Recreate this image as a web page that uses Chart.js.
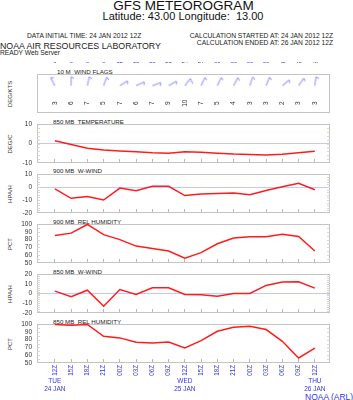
<!DOCTYPE html>
<html>
<head>
<meta charset="utf-8">
<script src="https://cdn.jsdelivr.net/npm/chart.js@4.4.1/dist/chart.umd.min.js"></script>
<style>
  html, body { margin: 0; padding: 0; background: #fff; }
  #page { position: relative; width: 353px; height: 400px; overflow: hidden;
          font-family: "Liberation Sans", Arial, sans-serif; color: #222; }
  #page canvas { position: absolute; left: 0; top: 0; }
  .t { position: absolute; white-space: nowrap; line-height: 1; }
  .yt { position: absolute; white-space: nowrap; line-height: 1; font-size: 6px; color: #333;
        transform: translate(-50%, -50%) rotate(-90deg); }
  .blue { color: #3535e6; }
</style>
</head>
<body>
<div id="page">
  <div class="t" style="left:183.5px; top:-1.3px; font-size:13.5px; color:#111; transform:translateX(-50%);">GFS METEOROGRAM</div>
  <div class="t" style="left:183px; top:11px; font-size:11px; color:#111; transform:translateX(-50%);">Latitude: 43.00 Longitude:&nbsp; 13.00</div>
  <div class="t" style="left:27px; top:32.8px; font-size:6.7px;">DATA INITIAL TIME: 24 JAN 2012 12Z</div>
  <div class="t" style="right:20px; top:32.8px; font-size:6.7px;">CALCULATION STARTED AT: 24 JAN 2012 12Z</div>
  <div class="t" style="right:20px; top:40.1px; font-size:6.7px;">CALCULATION ENDED AT: 26 JAN 2012 12Z</div>
  <div class="t" style="left:0; top:41.5px; font-size:8.8px;">NOAA AIR RESOURCES LABORATORY</div>
  <div class="t" style="left:0; top:49.8px; font-size:6.7px;">READY Web Server</div>

  <div class="t" style="left:57px; top:68.7px; font-size:6.2px;">10 M&nbsp; WIND FLAGS</div>
  <div class="t" style="left:53px; top:118.7px; font-size:6.2px;">850 MB&nbsp; TEMPERATURE</div>
  <div class="t" style="left:53px; top:168.3px; font-size:6.2px;">900 MB&nbsp; W-WIND</div>
  <div class="t" style="left:53px; top:218.5px; font-size:6.2px;">900 MB&nbsp; REL HUMIDITY</div>
  <div class="t" style="left:53px; top:268.5px; font-size:6.2px;">850 MB&nbsp; W-WIND</div>
  <div class="t" style="left:53px; top:318.5px; font-size:6.2px;">850 MB&nbsp; REL HUMIDITY</div>

  <div class="yt" style="left:10px; top:94px;">DEG/KTS</div>
  <div class="yt" style="left:10px; top:144px;">DEG/C</div>
  <div class="yt" style="left:10px; top:194px;">HPA/H</div>
  <div class="yt" style="left:10px; top:244px;">PCT</div>
  <div class="yt" style="left:10px; top:294px;">HPA/H</div>
  <div class="yt" style="left:10px; top:344px;">PCT</div>

  <div class="t blue" style="left:305px; top:392.8px; font-size:8.5px;">NOAA (ARL)</div>

  <canvas id="cWind" width="353" height="400"></canvas>
  <canvas id="cTemp" width="353" height="400"></canvas>
  <canvas id="cW900" width="353" height="400"></canvas>
  <canvas id="cRh900" width="353" height="400"></canvas>
  <canvas id="cW850" width="353" height="400"></canvas>
  <canvas id="cRh850" width="353" height="400"></canvas>
  <canvas id="cAxes" width="353" height="400"></canvas>
</div>

<script>
// forecast hours (every 3 h from 24 JAN 2012 12Z)
var hours = [0, 3, 6, 9, 12, 15, 18, 21, 24, 27, 30, 33, 36, 39, 42, 45, 48];
var topHourLabels = ['0', '3', '6', '9', '12', '15', '18', '21', '24', '27', '30', '33', '36', '39', '42', '45', '48'];
var utcLabels = ['12Z', '15Z', '18Z', '21Z', '00Z', '03Z', '06Z', '09Z', '12Z',
                 '15Z', '18Z', '21Z', '00Z', '03Z', '06Z', '09Z', '12Z'];
var dayHours = [0, 24, 48];
var dayLabels = [['TUE', '24 JAN'], ['WED', '25 JAN'], ['THU', '26 JAN']];

// y tick values of the panels
var tempTicks = [-10, 0, 10];
var wind900Ticks = [-20, -10, 0, 10];
var rhTicks = [50, 60, 70, 80, 90, 100];
var wind850Ticks = [-20, -10, 0, 10, 20];

// 10 m wind: direction (deg, from) and speed (kts)
var windDir = [332, 0, 12, 20, 58, 65, 70, 60, 38, 25, 25, 28, 18, 22, 50, 35, 8];
var windKts = [3, 6, 7, 5, 7, 6, 7, 9, 10, 7, 5, 4, 3, 3, 2, 3, 3];

// panel series
var temp850 = [1.4, -0.5, -2.4, -3.3, -3.8, -4.2, -4.7, -5.0, -4.2, -4.5, -5.0, -5.4, -5.6, -5.9, -5.5, -4.7, -4.0];
var wwind900 = [-1.4, -8.7, -7.4, -10, -0.8, -2.9, 0.5, 0.5, -6.6, -5.3, -5.0, -4.7, -6.0, -2.7, 0.2, 2.9, -2.1];
var rh900 = [85.4, 88.3, 99.4, 86.3, 80, 71.7, 68.7, 65.4, 56.3, 63.3, 74.6, 82, 83.8, 83.8, 87, 84, 65.4];
var wwind850 = [2.4, -3.4, 3.4, -13, 4.1, -1, 5.9, 5.9, -1, -1.4, -2.8, 0, 0, 8.3, 11.7, 12, 5.5];
var rh850 = [99.4, 98.5, 99.4, 84.3, 82.2, 76.5, 75.7, 77, 69.2, 78.7, 90.7, 95.9, 97.2, 92.9, 77.8, 56.4, 69.2];

var X_MIN = -3.3, X_MAX = 50.8;
var PANEL_TOP = 74, PANEL_STEP = 50, PANEL_H = 39;
var PLOT_LEFT = 37, PLOT_RIGHT = 330;
var BLUE = '#3535e6';
var RED = 'rgb(255,28,28)';
var FONT = "'Liberation Sans', Arial, sans-serif";

Chart.defaults.font.family = FONT;
Chart.defaults.animation = false;

function points(values) {
  return values.map(function (v, i) { return { x: hours[i], y: v }; });
}

function fixedTicks(list) {
  return function (scale) {
    scale.ticks = list.map(function (v) { return { value: v }; });
  };
}

// light grey frame round the chart area, with small ticks on both sides
var boxPlugin = {
  id: 'box',
  beforeDatasetsDraw: function (chart, args, opts) {
    var a = chart.chartArea, ctx = chart.ctx;
    ctx.save();
    ctx.strokeStyle = '#c4c4c4';
    ctx.lineWidth = 1;
    ctx.strokeRect(a.left + 0.5, a.top + 0.5, a.right - a.left - 1, a.bottom - a.top - 1);
    if (opts.minorStep) {
      var ys = chart.scales.y;
      ctx.strokeStyle = '#d6d6d6';
      ctx.beginPath();
      for (var v = ys.min + opts.minorStep; v < ys.max; v += opts.minorStep) {
        var py = Math.round(ys.getPixelForValue(v)) + 0.5;
        ctx.moveTo(a.left, py); ctx.lineTo(a.left + 3, py);
        ctx.moveTo(a.right, py); ctx.lineTo(a.right - 3, py);
      }
      ctx.stroke();
    }
    ctx.restore();
  }
};

function plotPanel(id, k, values, yTicks, minorStep, isLast) {
  var top = PANEL_TOP + k * PANEL_STEP;
  var bottom = top + PANEL_H;
  var scales = {
    x: {
      type: 'linear', min: X_MIN, max: X_MAX, position: 'bottom',
      afterBuildTicks: fixedTicks(hours),
      afterFit: function (s) { s.height = isLast ? 14 : 0; },
      grid: { drawOnChartArea: false, drawTicks: true, tickLength: -4, color: '#b8b8b8' },
      border: { display: false },
      ticks: {
        display: isLast, autoSkip: false, minRotation: 90, maxRotation: 90,
        padding: 6, color: BLUE, font: { size: 6.3 },
        callback: function (v, i) { return utcLabels[i]; }
      }
    },
    y: {
      min: yTicks[0], max: yTicks[yTicks.length - 1],
      afterBuildTicks: fixedTicks(yTicks),
      // fixed width so that every panel lines up
      afterFit: function (s) { s.width = PLOT_LEFT; },
      ticks: { autoSkip: false, display: false, font: { size: 6.5 } },
      grid: {
        drawTicks: false,
        color: function (c) { return c.tick && c.tick.value === 0 ? '#c6c6ff' : 'rgba(0,0,0,0)'; }
      },
      border: { display: false }
    }
  };
  var padBottom = 400 - bottom;
  if (isLast) {
    scales.x2 = {
      type: 'linear', min: X_MIN, max: X_MAX, position: 'bottom',
      afterBuildTicks: fixedTicks(dayHours),
      afterFit: function (s) { s.height = 20; },
      grid: { display: false, drawTicks: false },
      border: { display: false },
      ticks: {
        autoSkip: false, maxRotation: 0, padding: 0, color: BLUE,
        font: { size: 6.5, lineHeight: 1.25 },
        callback: function (v, i) { return dayLabels[i]; }
      }
    };
    padBottom -= 34;
  }

  return new Chart(document.getElementById(id), {
    type: 'line',
    data: {
      datasets: [{
        data: points(values),
        borderColor: RED,
        borderWidth: 1.5,
        pointRadius: 0,
        tension: 0,
        clip: false
      }]
    },
    options: {
      responsive: false,
      layout: { padding: { left: 0, right: 353 - PLOT_RIGHT, top: top, bottom: padBottom } },
      scales: scales,
      plugins: { legend: { display: false }, tooltip: { enabled: false }, box: { minorStep: minorStep } }
    },
    plugins: [boxPlugin]
  });
}

// one wind-barb image: staff pointing up from the centre, small flag at the tip
function makeBarb(flag) {
  var c = document.createElement('canvas');
  c.width = 24; c.height = 24;
  var g = c.getContext('2d');
  g.strokeStyle = '#7272f4';
  g.lineWidth = 0.8;
  g.beginPath();
  g.moveTo(12, 12); g.lineTo(12, 3);
  if (flag > 0) { g.moveTo(12, 3); g.lineTo(12 + flag, 3 + flag * 0.5); }
  g.stroke();
  return c;
}

var BARB_ROW = 0.7, SPEED_ROW = 0.25;

var speedPlugin = {
  id: 'speeds',
  afterDatasetsDraw: function (chart) {
    var ctx = chart.ctx, xs = chart.scales.x, ys = chart.scales.y;
    ctx.save();
    ctx.fillStyle = '#333';
    ctx.font = '6.5px ' + FONT;
    ctx.textAlign = 'center';
    ctx.textBaseline = 'middle';
    windKts.forEach(function (s, i) {
      ctx.save();
      ctx.translate(xs.getPixelForValue(hours[i]), ys.getPixelForValue(SPEED_ROW));
      ctx.rotate(-Math.PI / 2);
      ctx.fillText(String(s), 0, 0);
      ctx.restore();
    });
    ctx.restore();
  }
};

function plotWindFlags() {
  var barbs = windKts.map(function (s) { return makeBarb(s >= 10 ? 5 : 3); });
  return new Chart(document.getElementById('cWind'), {
    type: 'line',
    data: {
      datasets: [{
        data: hours.map(function (h) { return { x: h, y: BARB_ROW }; }),
        showLine: false,
        pointStyle: barbs,
        rotation: windDir,
        pointRadius: 12,
        clip: false
      }]
    },
    options: {
      responsive: false,
      layout: { padding: { left: PLOT_LEFT, right: 353 - PLOT_RIGHT, top: PANEL_TOP - 12, bottom: 400 - PANEL_TOP - PANEL_H } },
      scales: {
        x: {
          type: 'linear', min: X_MIN, max: X_MAX, position: 'top',
          afterBuildTicks: fixedTicks(hours),
          afterFit: function (s) { s.height = 12; },
          grid: { display: false, drawTicks: false },
          border: { display: false },
          ticks: {
            autoSkip: false, maxRotation: 0, padding: 9, color: BLUE, font: { size: 6 },
            callback: function (v, i) { return topHourLabels[i]; }
          }
        },
        y: { display: false, min: 0, max: 1 }
      },
      plugins: { legend: { display: false }, tooltip: { enabled: false }, box: { minorStep: 0 } }
    },
    plugins: [boxPlugin, speedPlugin]
  });
}

// y tick labels of every panel, written on a top canvas from each chart's y scale
function drawYLabels(charts) {
  var ctx = document.getElementById('cAxes').getContext('2d');
  ctx.fillStyle = '#333';
  ctx.font = '6.5px ' + FONT;
  ctx.textAlign = 'right';
  ctx.textBaseline = 'middle';
  charts.forEach(function (chart) {
    var ys = chart.scales.y;
    ys.ticks.forEach(function (t) {
      ctx.fillText(String(t.value), chart.chartArea.left - 5, ys.getPixelForValue(t.value));
    });
  });
}

plotWindFlags();
var panels = [
  plotPanel('cTemp', 1, temp850, tempTicks, 2, false),
  plotPanel('cW900', 2, wwind900, wind900Ticks, 2, false),
  plotPanel('cRh900', 3, rh900, rhTicks, 5, false),
  plotPanel('cW850', 4, wwind850, wind850Ticks, 2, false),
  plotPanel('cRh850', 5, rh850, rhTicks, 5, true)
];
drawYLabels(panels);
</script>
</body>
</html>
